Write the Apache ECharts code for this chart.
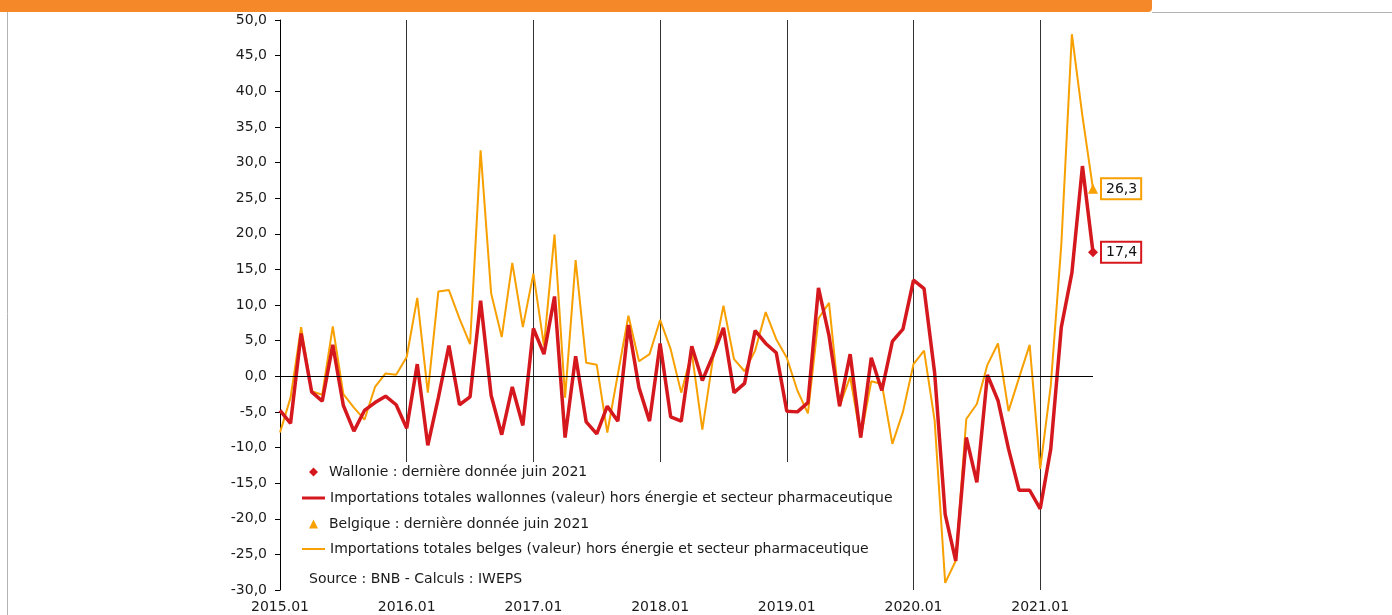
<!DOCTYPE html>
<html>
<head>
<meta charset="utf-8">
<script src="https://cdn.jsdelivr.net/npm/echarts@6/dist/echarts.min.js"></script>
<style>
  html, body { margin: 0; padding: 0; background: #fff; }
  #chart { width: 1392px; height: 615px; }
</style>
</head>
<body>
<div id="chart"></div>
<script>
// mois 2015.01 -> 2021.06
const months = [];
for (let y = 2015; y <= 2021; y++) {
  for (let m = 1; m <= 12; m++) {
    if (y === 2021 && m > 6) break;
    months.push(y + "." + (m < 10 ? "0" + m : m));
  }
}

// Importations totales wallonnes (valeur) hors énergie et secteur pharmaceutique
const wallonie = [
  -4.8, -6.6, 6.0, -2.2, -3.5, 4.4, -4.1, -7.7, -4.8, -3.7, -2.8, -4.0,
  -7.3, 1.7, -9.7, -3.0, 4.3, -4.0, -2.9, 10.6, -2.7, -8.2, -1.5, -6.9,
  6.7, 3.1, 11.2, -8.6, 2.8, -6.4, -8.1, -4.2, -6.3, 7.2, -1.6, -6.3,
  4.6, -5.7, -6.3, 4.2, -0.6, 2.9, 6.8, -2.3, -1.0, 6.4, 4.6, 3.3,
  -4.9, -5.0, -3.7, 12.4, 5.7, -4.2, 3.1, -8.6, 2.6, -2.0, 4.9, 6.6,
  13.5, 12.3, 0.5, -19.4, -25.9, -8.6, -14.9, 0.2, -3.4, -10.2, -16.0, -16.0,
  -18.6, -10.2, 6.9, 14.5, 29.5, 17.4
];

// Importations totales belges (valeur) hors énergie et secteur pharmaceutique
const belgique = [
  -7.9, -3.0, 6.9, -2.1, -2.6, 7.0, -2.5, -4.4, -6.1, -1.5, 0.4, 0.2,
  2.7, 11.0, -2.3, 11.9, 12.1, 8.1, 4.5, 31.7, 11.6, 5.5, 15.9, 6.9,
  14.4, 4.3, 19.9, -3.0, 16.3, 1.9, 1.6, -7.9, 0.3, 8.5, 2.1, 3.1,
  7.9, 3.8, -2.3, 3.3, -7.5, 2.4, 9.9, 2.4, 0.7, 3.6, 9.0, 5.2,
  2.6, -2.0, -5.2, 8.1, 10.3, -4.2, -0.1, -8.6, -0.7, -1.1, -9.5, -5.0,
  1.7, 3.6, -6.2, -29.0, -25.9, -6.0, -3.9, 1.6, 4.6, -4.9, -0.2, 4.4,
  -13.0, -1.3, 18.5, 48.0, 36.5, 26.3
];

const names = [
  "Wallonie : dernière donnée juin 2021",
  "Importations totales wallonnes (valeur) hors énergie et secteur pharmaceutique",
  "Belgique : dernière donnée juin 2021",
  "Importations totales belges (valeur) hors énergie et secteur pharmaceutique"
];

const RED = "#D5181E";
const ORANGE = "#F7A000";
const FONT = "DejaVu Sans";
const FS = 14;
const last = months.length - 1;

function fr(v) {
  return v.toFixed(1).replace(".", ",");
}

const chart = echarts.init(document.getElementById("chart"));

const legendText = { color: "#1a1a1a", fontSize: FS, fontFamily: FONT };

const option = {
  animation: false,
  textStyle: { fontFamily: FONT },
  grid: { left: 280, right: 299, top: 20, bottom: 25 },
  legend: [
    {
      data: [{ name: names[0], icon: "diamond", itemStyle: { opacity: 1 } }],
      left: 309, top: 465, padding: 0,
      itemWidth: 9, itemHeight: 9,
      textStyle: Object.assign({ padding: [0, 0, 0, 6] }, legendText)
    },
    {
      data: [{ name: names[1], icon: "rect" }],
      left: 302, top: 491, padding: 0,
      itemWidth: 23, itemHeight: 3,
      textStyle: legendText
    },
    {
      data: [{ name: names[2], icon: "triangle", itemStyle: { opacity: 1 } }],
      left: 309, top: 517, padding: 0,
      itemWidth: 9, itemHeight: 9,
      textStyle: Object.assign({ padding: [0, 0, 0, 6] }, legendText)
    },
    {
      data: [{ name: names[3], icon: "rect" }],
      left: 302, top: 542, padding: 0,
      itemWidth: 23, itemHeight: 2,
      textStyle: legendText
    }
  ],
  graphic: [
    // bandeau orange du haut
    {
      type: "rect", z: 10,
      shape: { x: 0, y: 0, width: 1152, height: 12, r: [0, 0, 4, 0] },
      style: { fill: "#F5892A" }
    },
    {
      type: "line", z: 10,
      shape: { x1: 1152, y1: 12.5, x2: 1392, y2: 12.5 },
      style: { stroke: "#b4b4b4", lineWidth: 1 }
    },
    {
      type: "line", z: 10,
      shape: { x1: 7.5, y1: 12, x2: 7.5, y2: 615 },
      style: { stroke: "#b4b4b4", lineWidth: 1 }
    },
    // fond blanc de la légende
    {
      type: "rect", z: 1,
      shape: { x: 286, y: 462, width: 620, height: 130 },
      style: { fill: "#fff" }
    },
    {
      type: "text", z: 10,
      left: 309, top: 572,
      style: { text: "Source : BNB - Calculs : IWEPS", fill: "#1a1a1a", font: FS + "px '" + FONT + "'" }
    }
  ],
  xAxis: {
    type: "category",
    data: months,
    boundaryGap: false,
    axisLine: { show: false },
    axisTick: { show: false },
    axisLabel: {
      interval: (i) => i % 12 === 0,
      color: "#1a1a1a",
      fontSize: FS,
      margin: 10
    },
    splitLine: {
      show: true,
      interval: (i) => i % 12 === 0 && i > 0,
      lineStyle: { color: "#333", width: 1 }
    }
  },
  yAxis: {
    type: "value",
    min: -30,
    max: 50,
    interval: 5,
    axisLine: { show: true, lineStyle: { color: "#000", width: 1 } },
    axisTick: { show: true, length: 5, lineStyle: { color: "#000" } },
    axisLabel: { color: "#1a1a1a", fontSize: FS, margin: 13, formatter: fr },
    splitLine: { show: false }
  },
  series: [
    {
      name: names[3],
      type: "line",
      data: belgique,
      symbol: "none",
      itemStyle: { color: ORANGE },
      lineStyle: { color: ORANGE, width: 2 },
      z: 2,
      markLine: {
        silent: true,
        symbol: "none",
        label: { show: false },
        lineStyle: { color: "#000", width: 1, type: "solid" },
        data: [{ yAxis: 0 }]
      }
    },
    {
      name: names[1],
      type: "line",
      data: wallonie,
      symbol: "none",
      itemStyle: { color: RED },
      lineStyle: { color: RED, width: 3.5 },
      z: 3
    },
    {
      name: names[2],
      type: "scatter",
      data: [[months[last], belgique[last]]],
      symbol: "triangle",
      symbolSize: 10,
      itemStyle: { color: ORANGE, opacity: 1 },
      z: 4,
      label: {
        show: true,
        position: "right",
        distance: 4,
        formatter: (p) => fr(p.value[1]),
        color: "#111",
        fontSize: FS,
        backgroundColor: "#fff",
        borderColor: ORANGE,
        borderWidth: 2,
        padding: [3, 3, 2, 4]
      }
    },
    {
      name: names[0],
      type: "scatter",
      data: [[months[last], wallonie[last]]],
      symbol: "diamond",
      symbolSize: 10,
      itemStyle: { color: RED, opacity: 1 },
      z: 4,
      label: {
        show: true,
        position: "right",
        distance: 4,
        formatter: (p) => fr(p.value[1]),
        color: "#111",
        fontSize: FS,
        backgroundColor: "#fff",
        borderColor: RED,
        borderWidth: 2,
        padding: [3, 3, 2, 4]
      }
    }
  ]
};

chart.setOption(option);
</script>
</body>
</html>
